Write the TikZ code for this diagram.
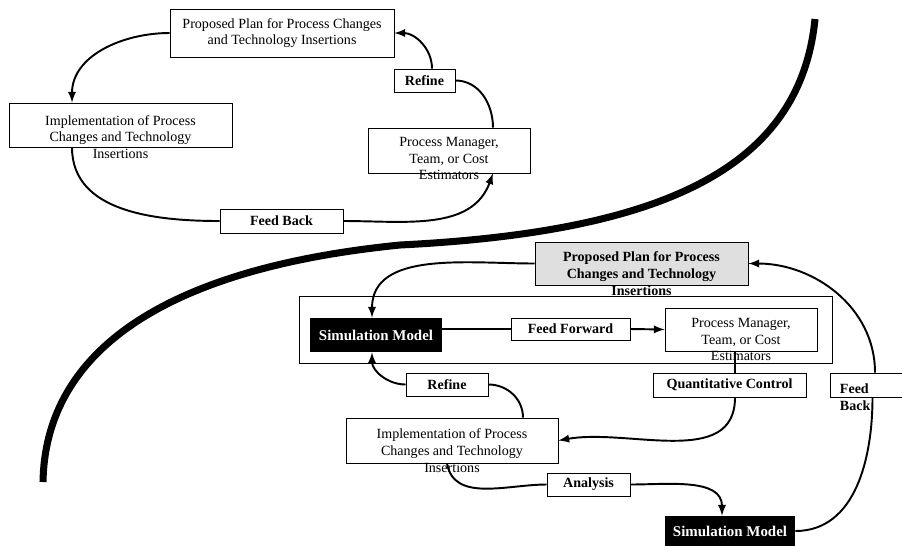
\documentclass[tikz,border=0pt]{standalone}
\usepackage{fontspec}
\setmainfont{Liberation Serif}
\begin{document}
\begin{tikzpicture}[x=0.02cm, y=-0.02cm,
	box/.style={draw, fill=white, line width=0.5pt, inner sep=0pt},
	txt/.style={align=center, inner sep=0pt, font=\fontsize{8}{9.6}\selectfont},
	lbl/.style={draw, fill=white, line width=0.5pt, inner sep=0pt, font=\fontsize{8}{9.6}\selectfont\bfseries},
	simbox/.style={fill=black, text=white, inner sep=0pt, font=\fontsize{8.5}{10}\selectfont\bfseries},
	con/.style={line width=1.1pt},
	arr/.style={line width=1.1pt, -latex}]
	\useasboundingbox (0,0) rectangle (902,545);
	
	% the dividing curve
	\draw[line width=4pt] (815,19) .. controls (800,170) and (660,232) .. (400,245) .. controls (150,270) and (45,360) .. (43,482);
	
	% upper cycle
	\node[box, minimum width=4.48cm, minimum height=0.96cm] (plan1) at (282,33) {};
	\node[txt] (plan1t) at (plan1.center) {Proposed Plan for Process Changes\\and Technology Insertions};
	\node[box, minimum width=4.46cm, minimum height=0.88cm] (impl1) at (120.5,125) {};
	\node[txt] (impl1t) at ([yshift=-0.24cm]impl1.center) {Implementation of Process\\Changes and Technology\\Insertions};
	\node[lbl, minimum width=1.22cm, minimum height=0.46cm] (refine1) at (424.5,80.5) {Refine};
	\node[box, minimum width=3.24cm, minimum height=0.9cm] (pm1) at (449,150.5) {};
	\node[txt] (pm1t) at ([yshift=-0.16cm]pm1.center) {Process Manager,\\Team, or Cost\\Estimators};
	\node[lbl, minimum width=2.46cm, minimum height=0.48cm] (fb1) at (281.5,221) {Feed Back};
	
	\draw[arr] (plan1.west) to[out=180, in=90] ([xshift=-0.97cm]impl1.north);
	\draw[con] ([xshift=-0.97cm]impl1.south) to[out=-90, in=180] (fb1.west);
	\draw[arr] (fb1.east) to[out=0, in=-110] ([xshift=0.88cm]pm1.south);
	\draw[con] ([xshift=0.88cm]pm1.north) to[out=90, in=0] (refine1.east);
	\draw[arr] ([xshift=0.15cm]refine1.north) to[out=90, in=0] (plan1.east);
	
	% lower cycle
	\node[box, fill=none, minimum width=10.66cm, minimum height=1.34cm] (frame) at (565.5,329.5) {};
	\node[box, fill=gray!25, minimum width=4.26cm, minimum height=0.86cm] (plan2) at (641.5,263.5) {};
	\node[txt, font=\fontsize{8}{9.6}\selectfont\bfseries] (plan2t) at ([yshift=-0.2cm]plan2.center) {Proposed Plan for Process\\Changes and Technology\\Insertions};
	\node[simbox, minimum width=2.64cm, minimum height=0.68cm] (sim1) at (376,335) {Simulation Model};
	\node[lbl, minimum width=2.38cm, minimum height=0.44cm] (ff) at (570.5,329) {Feed Forward};
	\node[box, minimum width=3.04cm, minimum height=0.86cm] (pm2) at (741,329.5) {};
	\node[txt] (pm2t) at ([yshift=-0.2cm]pm2.center) {Process Manager,\\Team, or Cost\\Estimators};
	\node[lbl, minimum width=3.06cm, minimum height=0.48cm] (qc) at (729.5,385) {Quantitative Control};
	\node[box, minimum width=1.5cm, minimum height=0.48cm] (fb2) at (867.5,385) {};
	\node[txt, align=left, anchor=north west, font=\fontsize{8}{9.6}\selectfont\bfseries] (fb2t) at ([xshift=0.2cm, yshift=-0.22cm]fb2.north west) {Feed\\Back};
	\node[lbl, minimum width=1.64cm, minimum height=0.46cm] (refine2) at (447,384.5) {Refine};
	\node[box, minimum width=4.24cm, minimum height=0.9cm] (impl2) at (452,440.5) {};
	\node[txt] (impl2t) at ([yshift=-0.2cm]impl2.center) {Implementation of Process\\Changes and Technology\\Insertions};
	\node[lbl, minimum width=1.66cm, minimum height=0.46cm] (an) at (588.5,484.5) {Analysis};
	\node[simbox, minimum width=2.6cm, minimum height=0.6cm] (sim2) at (730,531) {Simulation Model};
	
	\draw[arr] (plan2.west) to[out=180, in=90] ([xshift=-0.08cm]sim1.north);
	\draw[con] (sim1.east |- ff.west) -- (ff.west);
	\draw[arr] (ff.east) -- (pm2.west);
	\draw[con] ([xshift=0.11cm]qc.north) -- ([xshift=0.11cm]qc.north |- pm2.south);
	\draw[arr] ([xshift=0.11cm]qc.south) to[out=-90, in=10] (impl2.east);
	\draw[con] ([xshift=1.42cm]impl2.north) to[out=90, in=0] (refine2.east);
	\draw[arr] (refine2.west) to[out=180, in=-90] ([xshift=-0.08cm]sim1.south);
	\draw[con] ([xshift=-0.1cm]impl2.south) to[out=-80, in=180] (an.west);
	\draw[arr] (an.east) to[out=0, in=90] ([xshift=-0.16cm]sim2.north);
	\draw[con] (sim2.east) to[out=0, in=-90] ([xshift=0.1cm]fb2.south);
	\draw[arr] ([xshift=0.15cm]fb2.north) to[out=90, in=0] (plan2.east);
\end{tikzpicture}
\end{document}
